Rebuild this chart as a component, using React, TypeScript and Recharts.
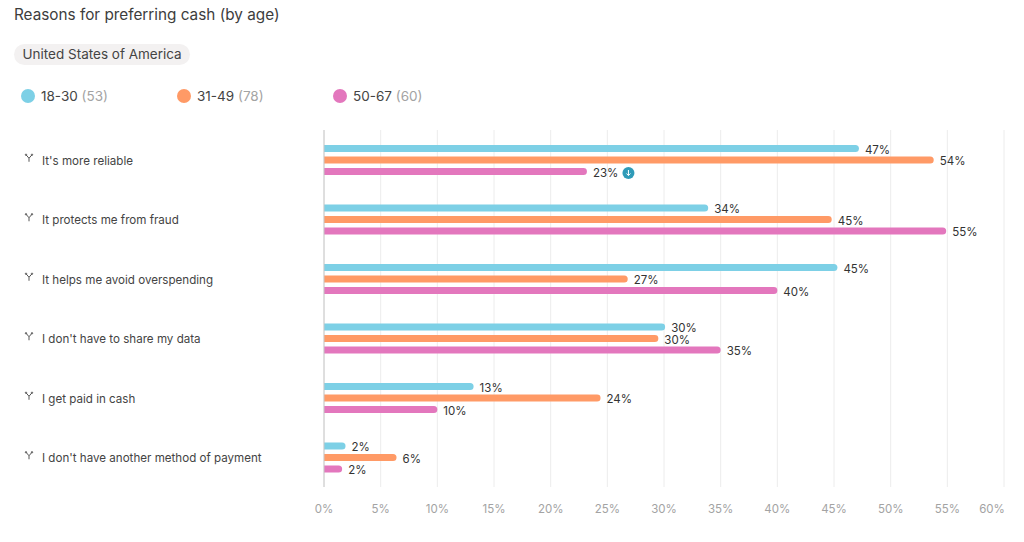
import React from 'react';
import { BarChart, Bar, XAxis, YAxis, CartesianGrid, LabelList } from 'recharts';

const categories = [
  "It's more reliable",
  'It protects me from fraud',
  'It helps me avoid overspending',
  "I don't have to share my data",
  'I get paid in cash',
  "I don't have another method of payment",
];
const young = [47.2, 33.9, 45.3, 30.1, 13.2, 1.9];
const middle = [53.8, 44.8, 26.8, 29.5, 24.4, 6.4];
const older = [23.2, 54.9, 40, 35, 10, 1.6];
const xTicks = [0, 5, 10, 15, 20, 25, 30, 35, 40, 45, 50, 55, 60];
const seriesNames = ['18-30', '31-49', '50-67'];
const seriesCounts = [53, 78, 60];
const seriesColors = ['#7dd0e6', '#ff9a66', '#e377bd'];
const seriesKeys = ['young', 'middle', 'older'];
const legendLefts = [21, 177, 333];

const data = categories.map((name, i) => ({ name, young: young[i], middle: middle[i], older: older[i] }));
const font = 'Inter, "Noto Sans", sans-serif';

const CategoryTick = (props: any) => {
  const { y, payload } = props;
  return (
    <g>
      <g transform={`translate(29, ${y - 2})`} stroke="#555" strokeWidth={1} fill="none">
        <path d="M-3 -3 L0 0.5 L3 -3 M0 0.5 L0 4" />
        <circle cx={-3} cy={-3} r={0.7} />
        <circle cx={3} cy={-3} r={0.7} />
      </g>
      <text x={42} y={y} dy={5} fontSize={11.6} fill="#444" fontFamily={font}>{payload.value}</text>
    </g>
  );
};

const PercentTick = (props: any) => {
  const { x, y, payload } = props;
  const shifted = payload.value === 60 ? x - 12 : x;
  return (
    <text x={shifted} y={y} dy={4} textAnchor="middle" fontSize={11.5} fill="#a3a3a3" fontFamily={font}>
      {payload.value}%
    </text>
  );
};

const ValueLabel = (props: any) => {
  const { x, y, width, height, value, index, seriesKey } = props;
  const lx = x + width + 6;
  const cy = y + height / 2 + 1;
  const flagged = seriesKey === 'older' && index === 0;
  return (
    <g>
      <text x={lx} y={cy} dy={4} fontSize={11.5} fill="#333" fontFamily={font}>{Math.round(value)}%</text>
      {flagged && (
        <g>
          <circle cx={lx + 35.5} cy={cy + 0.5} r={6} fill="#2f9bb8" />
          <path d={`M${lx + 35.5} ${cy - 2.5} V${cy + 3} M${lx + 33.5} ${cy + 1} L${lx + 35.5} ${cy + 3} L${lx + 37.5} ${cy + 1}`} stroke="#fff" strokeWidth={1} fill="none" />
        </g>
      )}
    </g>
  );
};

export default function App() {
  return (
    <div style={{ position: 'absolute', left: 0, top: 0, width: 1024, height: 542, background: '#fff', fontFamily: font, overflow: 'hidden' }}>
      <div style={{ position: 'absolute', left: 14, top: 5, fontSize: 15.3, color: '#3d3d3d', whiteSpace: 'nowrap' }}>Reasons for preferring cash (by age)</div>
      <div style={{ position: 'absolute', left: 14, top: 44, height: 21, lineHeight: '21px', padding: '0 8.5px', borderRadius: 10.5, background: '#f3f1f1', fontSize: 13.5, color: '#444', whiteSpace: 'nowrap' }}>United States of America</div>
      {seriesNames.map((n, i) => (
        <div key={n} style={{ position: 'absolute', left: legendLefts[i], top: 87, height: 18, lineHeight: '18px', fontSize: 13.5, color: '#444', whiteSpace: 'nowrap' }}>
          <span style={{ position: 'absolute', left: 0, top: 2, width: 14, height: 14, borderRadius: 7, background: seriesColors[i] }} />
          <span style={{ marginLeft: 20 }}>{n} </span>
          <span style={{ color: '#a3a3a3' }}>({seriesCounts[i]})</span>
        </div>
      ))}
      <div style={{ position: 'absolute', left: 0, top: 0 }}>
        <BarChart
          width={1024}
          height={542}
          data={data}
          layout="vertical"
          margin={{ top: 130, right: 20, bottom: 0, left: 0 }}
          barSize={7}
          barGap={4.5}
          barCategoryGap={18}
        >
          <CartesianGrid horizontal={false} vertical stroke="#ececec" />
          <XAxis type="number" domain={[0, 60]} ticks={xTicks} axisLine={false} tickLine={false} tick={<PercentTick />} tickMargin={16} interval={0} height={55} />
          <YAxis type="category" dataKey="name" width={324} axisLine={{ stroke: '#c8c8c8' }} tickLine={false} tick={<CategoryTick />} interval={0} />
          {seriesKeys.map((k, i) => (
            <Bar key={k} dataKey={k} fill={seriesColors[i]} radius={[0, 3.5, 3.5, 0]} isAnimationActive={false}>
              <LabelList dataKey={k} content={(p: any) => <ValueLabel {...p} seriesKey={k} />} />
            </Bar>
          ))}
        </BarChart>
      </div>
    </div>
  );
}
